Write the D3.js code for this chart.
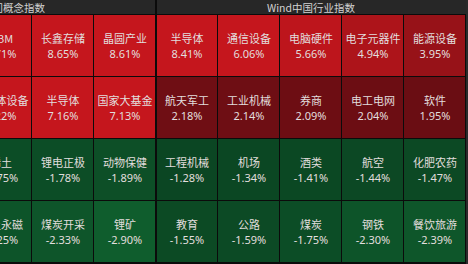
<!DOCTYPE html>
<html>
<head>
<meta charset="utf-8">
<script src="https://cdn.jsdelivr.net/npm/d3@7"></script>
<style>
  html, body { margin: 0; padding: 0; background: #2a2a2a; overflow: hidden; }
  svg { display: block; }
  text { font-family: "Noto Sans CJK SC", "Noto Sans", sans-serif; }
</style>
</head>
<body>
<div id="chart"></div>
<script>
const W = 468, H = 264;

// panel titles
const panelTitles = ["Wind热门概念指数", "Wind中国行业指数"];

// left panel: only the last three columns are visible in the picture
const conceptCols = [2, 3, 4];
const conceptNames = [
  ["HBM", "长鑫存储", "晶圆产业"],
  ["半导体设备", "半导体", "国家大基金"],
  ["稀土", "锂电正极", "动物保健"],
  ["稀土永磁", "煤炭开采", "锂矿"]
];
const conceptValues = [
  [8.71, 8.65, 8.61],
  [7.22, 7.16, 7.13],
  [-1.75, -1.78, -1.89],
  [-2.25, -2.33, -2.90]
];

// right panel
const industryCols = [0, 1, 2, 3, 4];
const industryNames = [
  ["半导体", "通信设备", "电脑硬件", "电子元器件", "能源设备"],
  ["航天军工", "工业机械", "券商", "电工电网", "软件"],
  ["工程机械", "机场", "酒类", "航空", "化肥农药"],
  ["教育", "公路", "煤炭", "钢铁", "餐饮旅游"]
];
const industryValues = [
  [8.41, 6.06, 5.66, 4.94, 3.95],
  [2.18, 2.14, 2.09, 2.04, 1.95],
  [-1.28, -1.34, -1.41, -1.44, -1.47],
  [-1.55, -1.59, -1.75, -2.30, -2.39]
];

const headerH = 15;
const panelLeft = -154, panelW = 310;

const svg = d3.select("#chart").append("svg")
  .attr("width", W).attr("height", H);

// grid background (the black lines between cells)
svg.append("rect")
  .attr("x", panelLeft).attr("y", 0)
  .attr("width", panelW * 2).attr("height", H)
  .attr("fill", "#0b0b0b");

const rowScale = d3.scaleBand().domain([0, 1, 2, 3])
  .range([headerH, headerH + 62 * 4]);

const redScale = d3.scaleLinear().domain([1.9, 6]).range(["#690d13", "#c5161d"]).clamp(true);
const greenScale = d3.scaleLinear().domain([-1.2, -3]).range(["#0b4522", "#0f5e2e"]).clamp(true);

function cellColor(v) {
  return v >= 0 ? redScale(v) : greenScale(v);
}

function drawPanel(p, title, cols, names, values) {
  const x0 = panelLeft + p * panelW;
  const colScale = d3.scaleBand().domain(d3.range(5)).range([x0, x0 + panelW]);
  const g = svg.append("g");

  // header
  g.append("rect")
    .attr("x", x0 + (p === 1 ? 1 : 0)).attr("y", 0)
    .attr("width", panelW - 1).attr("height", headerH - 1)
    .attr("fill", "#272727");
  g.append("text")
    .attr("x", x0 + panelW / 2).attr("y", 7)
    .attr("text-anchor", "middle").attr("dominant-baseline", "central")
    .attr("fill", "#d2d2d2").style("font-size", "10.5px")
    .text(title);

  const cells = [];
  names.forEach((row, r) => row.forEach((name, i) => {
    cells.push({ r: r, c: cols[i], name: name, value: values[r][i] });
  }));

  const cell = g.selectAll(".cell").data(cells).enter().append("g")
    .attr("class", "cell")
    .attr("transform", d => "translate(" + colScale(d.c) + "," + rowScale(d.r) + ")");

  cell.append("rect")
    .attr("x", d => (p === 1 && d.c === 0) ? 1 : 0)
    .attr("y", 0)
    .attr("width", d => colScale.bandwidth() - 1 - ((p === 1 && d.c === 0) ? 1 : 0))
    .attr("height", rowScale.bandwidth() - 1)
    .attr("fill", d => cellColor(d.value));

  cell.append("text")
    .attr("x", colScale.bandwidth() / 2)
    .attr("y", rowScale.bandwidth() / 2 - 8)
    .attr("text-anchor", "middle").attr("dominant-baseline", "central")
    .attr("fill", "#e2dede").style("font-size", "11px")
    .text(d => d.name);

  // plain hyphen for negatives, like the original
  cell.append("text")
    .attr("x", colScale.bandwidth() / 2)
    .attr("y", rowScale.bandwidth() / 2 + 7.5)
    .attr("text-anchor", "middle").attr("dominant-baseline", "central")
    .attr("fill", "#e2dede").style("font-size", "11px")
    .style("font-family", "'Noto Sans', sans-serif")
    .text(d => d.value.toFixed(2) + "%");
}

drawPanel(0, panelTitles[0], conceptCols, conceptNames, conceptValues);
drawPanel(1, panelTitles[1], industryCols, industryNames, industryValues);
</script>
</body>
</html>
